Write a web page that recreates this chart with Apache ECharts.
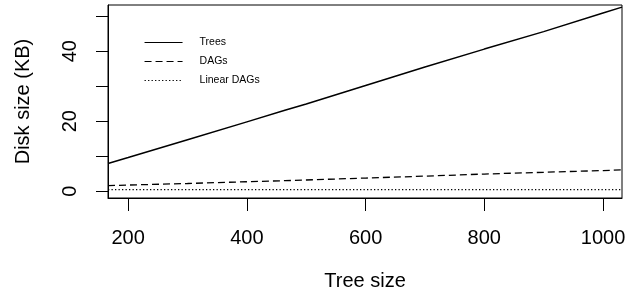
<!DOCTYPE html>
<html>
<head>
<meta charset="utf-8">
<script src="https://cdn.jsdelivr.net/npm/echarts@6/dist/echarts.min.js"></script>
<style>
html,body{margin:0;padding:0;background:#fff;}
#chart{width:626px;height:298px;}
</style>
</head>
<body>
<div id="chart"></div>
<script>
const treeSizes = [166, 200, 300, 400, 464, 500, 600, 700, 800, 900, 1000, 1032];
const treesKB = [7.9, 9.6, 14.7, 19.8, 23.1, 24.9, 30.2, 35.5, 40.6, 45.6, 50.9, 52.6];
const dagsKB = [1.6, 1.75, 2.2, 2.7, 3.0, 3.2, 3.75, 4.3, 4.9, 5.4, 5.9, 6.1];
const linearDagsKB = [0.45, 0.45, 0.45, 0.45, 0.45, 0.45, 0.45, 0.45, 0.45, 0.45, 0.45, 0.45];
const seriesNames = ['Trees', 'DAGs', 'Linear DAGs'];
const xTicks = [200, 400, 600, 800, 1000];
const yTicks = [0, 10, 20, 30, 40, 50];
const yLabels = [0, 20, 40];

const FONT = 'Liberation Sans, Arial, Helvetica, sans-serif';
const pairs = arr => treeSizes.map((x, i) => [x, arr[i]]);

const chart = echarts.init(document.getElementById('chart'), null, {renderer: 'canvas'});
const mk = (name, data, type, width) => ({
  name, type: 'line', data: pairs(data), showSymbol: false, symbol: 'none',
  lineStyle: {color: '#000', width, type}, itemStyle: {color: '#000'},
  animation: false, silent: true
});
chart.setOption({
  animation: false,
  backgroundColor: '#fff',
  textStyle: {fontFamily: FONT},
  grid: {left: 108, right: 4, top: 5, bottom: 100, show: true, borderColor: '#000', borderWidth: 1,
         containLabel: false, outerBoundsMode: 'none'},
  legend: {
    orient: 'vertical', left: 144, top: 37, padding: 0, itemWidth: 38, itemHeight: 11, itemGap: 8,
    itemStyle: {opacity: 0},
    lineStyle: {width: 1.1},
    textStyle: {fontSize: 10.5, color: '#000', fontFamily: FONT, padding: [0, 0, 0, 12]},
    data: seriesNames
  },
  xAxis: {
    type: 'value', min: 166, max: 1032,
    name: 'Tree size', nameLocation: 'middle', nameGap: 73,
    nameTextStyle: {fontSize: 20, color: '#000', fontFamily: FONT},
    axisLine: {show: true, onZero: false, lineStyle: {color: '#000'}},
    axisTick: {show: true, length: 13, lineStyle: {color: '#000'}, customValues: xTicks},
    axisLabel: {fontSize: 20, color: '#000', margin: 30, customValues: xTicks, fontFamily: FONT,
                formatter: v => String(v)},
    splitLine: {show: false}
  },
  yAxis: {
    type: 'value', min: -1.95, max: 53.2,
    name: 'Disk size (KB)', nameLocation: 'middle', nameGap: 75, nameRotate: 90,
    nameTextStyle: {fontSize: 20, color: '#000', fontFamily: FONT},
    axisLine: {show: true, onZero: false, lineStyle: {color: '#000'}},
    axisTick: {show: true, length: 12, lineStyle: {color: '#000'}, customValues: yTicks},
    axisLabel: {fontSize: 20, color: '#000', margin: 28, rotate: 90, customValues: yLabels, fontFamily: FONT,
                formatter: v => String(v)},
    splitLine: {show: false}
  },
  series: [
    mk(seriesNames[0], treesKB, 'solid', 1.5),
    mk(seriesNames[1], dagsKB, [7, 4], 1.3),
    mk(seriesNames[2], linearDagsKB, [1.3, 2.2], 1.4)
  ]
});
</script>
</body>
</html>
